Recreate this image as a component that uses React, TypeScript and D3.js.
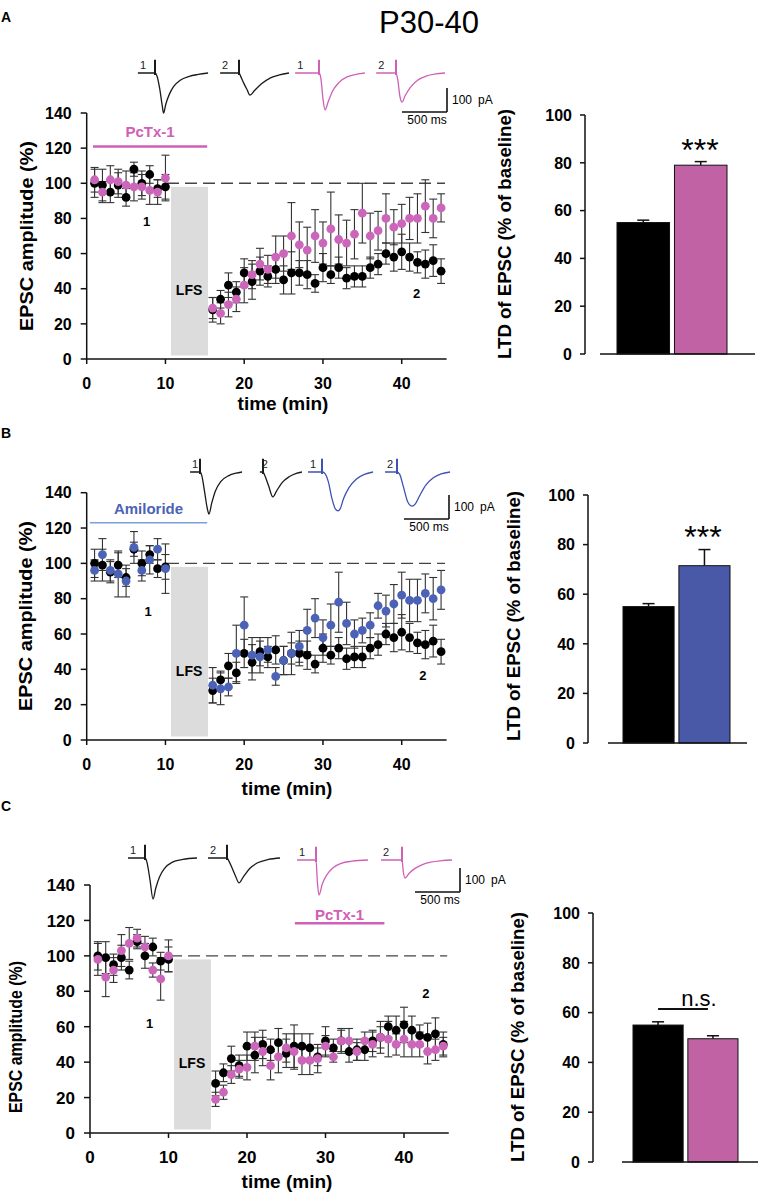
import * as d3 from 'd3';

const FONT = '"Liberation Sans", Arial, Helvetica, sans-serif';

// sampling times (min) – baseline then post-LFS
const TIME = [1, 2, 3, 4, 5, 6, 7, 8, 9, 10, 16, 17, 18, 19, 20, 21, 22, 23, 24, 25, 26, 27, 28, 29, 30, 31, 32, 33, 34, 35, 36, 37, 38, 39, 40, 41, 42, 43, 44, 45];

// control (black) – same dataset in all three panels
const CTRL_MEAN = [100, 99, 95, 99, 92, 108, 100, 105, 97, 98, 28, 34, 42, 38, 49, 44, 50, 47, 51, 45, 49, 49, 48, 43, 52, 48, 52, 46, 47, 47, 52, 54, 60, 58, 61, 58, 55, 54, 56, 50];
const CTRL_SEM = [8, 9, 6, 7, 5, 4, 7, 5, 5, 7, 7, 5, 7, 6, 8, 10, 8, 6, 8, 8, 12, 7, 8, 5, 8, 5, 6, 6, 6, 6, 6, 6, 6, 8, 10, 8, 6, 8, 9, 7];

const PCTX_A_MEAN = [102, 95, 102, 101, 99, 98, 98, 96, 95, 103, 29, 26, 31, 34, 42, 48, 54, 51, 58, 60, 70, 65, 62, 70, 66, 74, 68, 66, 71, 83, 70, 73, 80, 75, 77, 80, 80, 87, 80, 86];
const PCTX_A_SEM = [7, 6, 8, 7, 8, 8, 7, 8, 7, 13, 6, 6, 7, 7, 10, 8, 9, 8, 12, 10, 19, 13, 13, 15, 12, 21, 14, 13, 14, 17, 13, 11, 14, 10, 11, 12, 14, 15, 11, 8];

const AMIL_MEAN = [96, 105, 96, 94, 90, 109, 96, 102, 108, 97, 31, 29, 30, 49, 65, 48, 47, 51, 36, 45, 49, 53, 62, 69, 58, 65, 78, 66, 60, 62, 65, 76, 73, 77, 82, 79, 79, 83, 80, 85];
const AMIL_SEM = [6, 9, 6, 13, 9, 9, 6, 8, 6, 14, 10, 9, 5, 16, 16, 10, 9, 7, 5, 8, 6, 9, 12, 11, 10, 12, 17, 12, 8, 7, 7, 7, 9, 11, 13, 12, 12, 11, 12, 11];

const PCTX_C_MEAN = [98, 88, 92, 103, 107, 110, 105, 92, 87, 100, 19, 23, 33, 36, 37, 49, 46, 38, 43, 48, 46, 41, 41, 42, 49, 43, 52, 52, 46, 52, 50, 54, 53, 50, 53, 50, 50, 46, 47, 49];
const PCTX_C_SEM = [9, 11, 7, 9, 9, 5, 6, 4, 12, 9, 4, 4, 5, 5, 7, 8, 8, 8, 9, 8, 10, 8, 8, 8, 6, 3, 7, 7, 5, 5, 7, 9, 10, 6, 10, 7, 7, 7, 6, 5];

const Y_TICKS = [0, 20, 40, 60, 80, 100, 120, 140];
const X_TICKS = [0, 10, 20, 30, 40];
const BAR_TICKS = [0, 20, 40, 60, 80, 100];
const LFS_WINDOW = [10.7, 15.4];

// LTD summary bars (control, drug)
const BAR_GROUPS = ['control', 'drug'];
const BAR_A_MEAN = [55, 79];
const BAR_A_SEM = [1, 1.5];
const BAR_B_MEAN = [55, 71.5];
const BAR_B_SEM = [1.2, 6.5];
const BAR_C_MEAN = [55, 49.5];
const BAR_C_SEM = [1.3, 1.2];

// example EPSC traces: [ms from stimulus, pA]
const A_CTRL1 = [[-190, 0], [0, 0], [20, -10], [50, -60], [80, -135], [95, -167], [120, -130], [160, -88], [210, -55], [280, -30], [380, -14], [480, -6], [590, 0]];
const A_CTRL2 = [[-210, 0], [0, 0], [20, -15], [50, -40], [90, -70], [122, -92], [170, -74], [250, -45], [350, -20], [450, -8], [555, 0]];
const A_DRUG1 = [[-265, 0], [0, 0], [20, -20], [45, -110], [67, -154], [100, -122], [150, -76], [220, -40], [320, -15], [420, -5], [510, 0]];
const A_DRUG2 = [[-220, 0], [0, 0], [20, -30], [45, -100], [67, -121], [100, -96], [160, -60], [240, -30], [340, -12], [440, -4], [545, 0]];
const B_CTRL1 = [[-110, 0], [0, 0], [20, -15], [50, -80], [80, -150], [100, -175], [130, -130], [170, -80], [230, -40], [320, -15], [400, -5], [467, 0]];
const B_CTRL2 = [[-35, 0], [0, 0], [20, -15], [60, -55], [110, -104], [150, -80], [210, -45], [290, -20], [370, -6], [433, 0]];
const B_DRUG1 = [[-155, 0], [0, 0], [30, -5], [70, -40], [110, -110], [150, -155], [178, -162], [200, -155], [240, -110], [300, -65], [380, -30], [470, -10], [567, 0]];
const B_DRUG2 = [[-133, 0], [0, 0], [30, -10], [70, -60], [120, -125], [167, -142], [200, -135], [250, -100], [320, -55], [400, -25], [490, -8], [589, 0]];
const C_CTRL1 = [[-189, 0], [0, 0], [20, -15], [55, -90], [89, -171], [120, -125], [160, -80], [220, -42], [300, -18], [420, -6], [578, 0]];
const C_CTRL2 = [[-211, 0], [0, 0], [20, -12], [60, -45], [100, -80], [133, -104], [180, -80], [250, -45], [340, -20], [460, -6], [589, 0]];
const C_DRUG1 = [[-211, 0], [0, 0], [15, -90], [33, -146], [70, -100], [120, -62], [190, -32], [280, -14], [400, -5], [578, 0]];
const C_DRUG2 = [[-233, 0], [0, 0], [15, -50], [33, -75], [80, -55], [140, -36], [220, -20], [320, -9], [440, -3], [556, 0]];
const SPIKE_PA = 55;

const PINK = '#cc66ba';
const PINK_LINE = '#cf60b6';
const PINK_BAR = '#c062a4';
const BLUE = '#4b62b6';
const BLUE_BAR = '#4a58a8';
const BLUE_LIGHT = '#7aa0dc';

const PANELS = [
  {
    letter: 'A', letterY: 22,
    sx: [86.7, 401.7], sy: [359, 113], xLabel: [283, 410], yLabel: [27, 236, 190], tickFs: 16,
    drugMean: PCTX_A_MEAN, drugSem: PCTX_A_SEM, drugColor: PINK,
    drug: { text: 'PcTx-1', color: PINK_LINE, lineColor: PINK_LINE, lw: 2.5, from: 0.8, to: 15.3, lineY: 121, textY: 126.5 },
    marks: [{ t: '1', x: 7.6, y: 75.5 }, { t: '2', x: 41.9, y: 34.5 }],
    traces: [
      { d: A_CTRL1, ox: 155, by: 73, c: '#1a1a1a', l: '1' },
      { d: A_CTRL2, ox: 239, by: 73, c: '#1a1a1a', l: '2' },
      { d: A_DRUG1, ox: 319, by: 73, c: PINK_LINE, l: '1' },
      { d: A_DRUG2, ox: 396, by: 73, c: PINK_LINE, l: '2' },
    ],
    scaleBar: [447, 112],
    bar: { mean: BAR_A_MEAN, sem: BAR_A_SEM, color: PINK_BAR, ax: 585, y0: 354, y100: 115, base: [600, 755], bars: [617, 727], label: [505, 234], sig: '***', sigPos: [700, 161] },
  },
  {
    letter: 'B', letterY: 438,
    sx: [86.7, 401.7], sy: [740, 492.7], xLabel: [287, 795], yLabel: [26, 616, 190], tickFs: 16,
    drugMean: AMIL_MEAN, drugSem: AMIL_SEM, drugColor: BLUE,
    drug: { text: 'Amiloride', color: BLUE, lineColor: BLUE_LIGHT, lw: 1.5, from: 0.4, to: 15.3, lineY: 123, textY: 128 },
    marks: [{ t: '1', x: 7.8, y: 70 }, { t: '2', x: 42.7, y: 34 }],
    traces: [
      { d: B_CTRL1, ox: 200, by: 472, c: '#1a1a1a', l: '1' },
      { d: B_CTRL2, ox: 263, by: 472, c: '#1a1a1a', l: '2' },
      { d: B_DRUG1, ox: 322, by: 472, c: '#3f51b5', l: '1' },
      { d: B_DRUG2, ox: 397, by: 472, c: '#3f51b5', l: '2' },
    ],
    scaleBar: [449, 519],
    bar: { mean: BAR_B_MEAN, sem: BAR_B_SEM, color: BLUE_BAR, ax: 588, y0: 743, y100: 495, base: [608, 747], bars: [623, 730], label: [514, 616], sig: '***', sigPos: [703, 548] },
  },
  {
    letter: 'C', letterY: 811,
    sx: [90, 404], sy: [1133, 885], xLabel: [287, 1188], yLabel: [16, 1037, 152], tickFs: 17,
    drugMean: PCTX_C_MEAN, drugSem: PCTX_C_SEM, drugColor: PINK,
    drug: { text: 'PcTx-1', color: PINK_LINE, lineColor: PINK_LINE, lw: 2.5, from: 26.1, to: 37.5, lineY: 118.4, textY: 120.3 },
    marks: [{ t: '1', x: 7.6, y: 59 }, { t: '2', x: 42.8, y: 76 }],
    traces: [
      { d: C_CTRL1, ox: 145, by: 858, c: '#1a1a1a', l: '1' },
      { d: C_CTRL2, ox: 227, by: 858, c: '#1a1a1a', l: '2' },
      { d: C_DRUG1, ox: 316, by: 860, c: PINK_LINE, l: '1' },
      { d: C_DRUG2, ox: 402, by: 860, c: PINK_LINE, l: '2' },
    ],
    scaleBar: [460, 892],
    bar: { mean: BAR_C_MEAN, sem: BAR_C_SEM, color: PINK_BAR, ax: 593, y0: 1162, y100: 913, base: [622, 758], bars: [633, 738], label: [518, 1037], sig: 'n.s.', sigPos: [699, 1006] },
  },
];

function Trace({ t }) {
  const tx = d3.scaleLinear().domain([0, 500]).range([t.ox, t.ox + 45]);
  const ty = d3.scaleLinear().domain([0, 100]).range([t.by, t.by - 24]);
  const line = d3.line().x(d => tx(d[0])).y(d => ty(d[1])).curve(d3.curveMonotoneX);
  const x0 = tx(t.d[0][0]);
  return (
    <g>
      <path d={line(t.d)} fill="none" stroke={t.c} strokeWidth={1.3} />
      <line x1={tx(0)} x2={tx(0)} y1={ty(0) + 2} y2={ty(SPIKE_PA)} stroke={t.c} strokeWidth={2} />
      <text x={x0 + 2} y={t.by - 4} fontSize={11} fill="#222">{t.l}</text>
    </g>
  );
}

function Scatter({ p }) {
  const x = d3.scaleLinear().domain([0, 40]).range(p.sx);
  const y = d3.scaleLinear().domain([0, 140]).range(p.sy);
  const series = [
    { mean: CTRL_MEAN, sem: CTRL_SEM, color: '#000' },
    { mean: p.drugMean, sem: p.drugSem, color: p.drugColor },
  ];
  const [sbx, sby] = p.scaleBar;
  return (
    <g fontFamily={FONT}>
      <text x={1} y={p.letterY} fontSize={14} fontWeight="bold">{p.letter}</text>
      {p.traces.map((t, i) => <Trace key={i} t={t} />)}
      <g stroke="#111" strokeWidth={1.6} fill="none">
        <line x1={sbx} x2={sbx} y1={sby - 24} y2={sby} />
        <line x1={sbx - 45} x2={sbx} y1={sby} y2={sby} />
      </g>
      <text x={sbx + 5} y={sby - 8} fontSize={12}>100</text>
      <text x={sbx + 31} y={sby - 8} fontSize={12}>pA</text>
      <text x={sbx - 20} y={sby + 12} fontSize={12} textAnchor="middle">500 ms</text>

      {/* LFS block */}
      <rect x={x(LFS_WINDOW[0])} width={x(LFS_WINDOW[1]) - x(LFS_WINDOW[0])} y={y(98)} height={y(2) - y(98)} fill="#dcdcdc" />
      <text x={x(13)} y={y(36.5)} fontSize={14} fontWeight="bold" textAnchor="middle">LFS</text>

      {/* 100% baseline */}
      <line x1={x(10.2)} x2={x(45.5)} y1={y(100)} y2={y(100)} stroke="#444" strokeWidth={1.4} strokeDasharray="12 6" />

      {/* drug application */}
      <line x1={x(p.drug.from)} x2={x(p.drug.to)} y1={y(p.drug.lineY)} y2={y(p.drug.lineY)} stroke={p.drug.lineColor} strokeWidth={p.drug.lw} />
      <text x={x((p.drug.from + p.drug.to) / 2)} y={y(p.drug.textY)} fontSize={15} fontWeight="bold" fill={p.drug.color} textAnchor="middle">{p.drug.text}</text>

      {/* error bars */}
      {series.map((s, si) => (
        <g key={'e' + si} stroke="#333" strokeWidth={1.1}>
          {TIME.map((t, i) => {
            const cx = x(t);
            const hi = y(s.mean[i] + s.sem[i]);
            const lo = y(s.mean[i] - s.sem[i]);
            return (
              <g key={i}>
                <line x1={cx} x2={cx} y1={hi} y2={lo} />
                <line x1={cx - 4} x2={cx + 4} y1={hi} y2={hi} />
                <line x1={cx - 4} x2={cx + 4} y1={lo} y2={lo} />
              </g>
            );
          })}
        </g>
      ))}
      {series.map((s, si) => (
        <g key={'p' + si} fill={s.color}>
          {TIME.map((t, i) => <circle key={i} cx={x(t)} cy={y(s.mean[i])} r={4.4} />)}
        </g>
      ))}

      {p.marks.map((m, i) => (
        <text key={i} x={x(m.x)} y={y(m.y)} fontSize={13} fontWeight="bold" textAnchor="middle">{m.t}</text>
      ))}

      {/* axes */}
      <g stroke="#111" strokeWidth={1.5}>
        <line x1={x(0)} x2={x(0)} y1={y(0)} y2={y(140)} />
        <line x1={x(0)} x2={x(45.7)} y1={y(0)} y2={y(0)} />
        {Y_TICKS.map(v => <line key={v} x1={x(0) - 6} x2={x(0)} y1={y(v)} y2={y(v)} />)}
        {X_TICKS.map(v => <line key={v} x1={x(v)} x2={x(v)} y1={y(0)} y2={y(0) + 5} />)}
      </g>
      {Y_TICKS.map(v => (
        <text key={v} x={x(0) - 15} y={y(v)} dy="0.36em" fontSize={p.tickFs} fontWeight="bold" textAnchor="end">{v}</text>
      ))}
      {X_TICKS.map(v => (
        <text key={v} x={x(v)} y={y(0) + 30} fontSize={p.tickFs} fontWeight="bold" textAnchor="middle">{v}</text>
      ))}
      <text x={p.xLabel[0]} y={p.xLabel[1]} fontSize={19} fontWeight="bold" textAnchor="middle">time (min)</text>
      <text transform={`translate(${p.yLabel[0]},${p.yLabel[1]}) rotate(-90)`} dy="0.35em" fontSize={18} fontWeight="bold"
        textAnchor="middle" textLength={p.yLabel[2]} lengthAdjust="spacingAndGlyphs">EPSC amplitude (%)</text>
    </g>
  );
}

function Bars({ b }) {
  const y = d3.scaleLinear().domain([0, 100]).range([b.y0, b.y100]);
  const x = d3.scaleBand().domain(BAR_GROUPS).range(b.bars).paddingInner(0.086);
  const bw = x.bandwidth();
  const fills = ['#000', b.color];
  return (
    <g fontFamily={FONT}>
      {BAR_GROUPS.map((g, i) => {
        const x0 = x(g);
        const cx = x0 + bw / 2;
        const top = y(b.mean[i]);
        const err = y(b.mean[i] + b.sem[i]);
        return (
          <g key={g}>
            <line x1={cx} x2={cx} y1={top} y2={err} stroke="#111" strokeWidth={1.5} />
            <line x1={cx - 6} x2={cx + 6} y1={err} y2={err} stroke="#111" strokeWidth={1.5} />
            <rect x={x0} y={top} width={bw} height={y(0) - top} fill={fills[i]} stroke="#111" strokeWidth={1} />
          </g>
        );
      })}
      <g stroke="#111" strokeWidth={1.5}>
        <line x1={b.ax} x2={b.ax} y1={y(0)} y2={y(100)} />
        <line x1={b.base[0]} x2={b.base[1]} y1={y(0)} y2={y(0)} />
        {BAR_TICKS.map(v => <line key={v} x1={b.ax - 5} x2={b.ax} y1={y(v)} y2={y(v)} />)}
      </g>
      {BAR_TICKS.map(v => (
        <text key={v} x={b.ax - 13} y={y(v)} dy="0.36em" fontSize={16} fontWeight="bold" textAnchor="end">{v}</text>
      ))}
      <text transform={`translate(${b.label[0]},${b.label[1]}) rotate(-90)`} dy="0.35em" fontSize={18} fontWeight="bold"
        textAnchor="middle" textLength={250} lengthAdjust="spacingAndGlyphs">LTD of EPSC (% of baseline)</text>
      {b.sig === 'n.s.' ? (
        <g>
          <text x={b.sigPos[0]} y={b.sigPos[1]} fontSize={22} textAnchor="middle">n.s.</text>
          <line x1={x(BAR_GROUPS[0]) + bw / 2} x2={x(BAR_GROUPS[1]) + bw / 2 - 5} y1={b.sigPos[1] + 3} y2={b.sigPos[1] + 3} stroke="#111" strokeWidth={2} />
        </g>
      ) : (
        <text x={b.sigPos[0]} y={b.sigPos[1]} fontSize={32} textAnchor="middle">{b.sig}</text>
      )}
    </g>
  );
}

export default function App() {
  return (
    <svg width={765} height={1195} style={{ position: 'absolute', left: 0, top: 0, background: '#fff' }}>
      <rect width={765} height={1195} fill="#fff" />
      <text x={429} y={33} fontFamily={FONT} fontSize={31} textAnchor="middle">P30-40</text>
      {PANELS.map(p => (
        <g key={p.letter}>
          <Scatter p={p} />
          <Bars b={p.bar} />
        </g>
      ))}
    </svg>
  );
}
